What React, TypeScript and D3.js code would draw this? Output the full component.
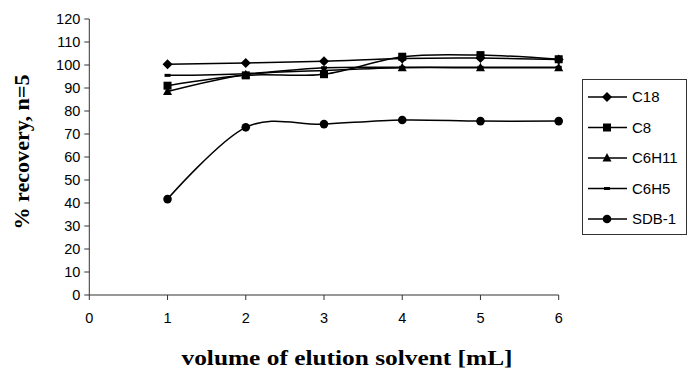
import * as d3 from 'd3';
import { useEffect, useRef } from 'react';

// volume of elution solvent (mL)
const volumes = [1, 2, 3, 4, 5, 6];

// % recovery per sorbent
const c18 = [100.3, 100.9, 101.6, 102.8, 103.0, 102.4];
const c8 = [91.0, 95.5, 96.0, 103.6, 104.3, 102.5];
const c6h11 = [88.5, 95.8, 97.6, 98.8, 98.8, 98.8];
const c6h5 = [95.5, 96.2, 98.8, 99.0, 99.0, 99.0];
const sdb1 = [41.7, 72.9, 74.3, 76.1, 75.6, 75.6];

const seriesNames = ['C18', 'C8', 'C6H11', 'C6H5', 'SDB-1'];
const seriesValues = [c18, c8, c6h11, c6h5, sdb1];
const markerKinds = ['diamond', 'square', 'triangle', 'dash', 'circle'];

const xTicks = [0, 1, 2, 3, 4, 5, 6];
const yTicks = d3.range(0, 121, 10);

const W = 688;
const H = 373;

function drawMarker(g, kind, x, y) {
  if (kind === 'diamond') {
    g.append('path')
      .attr('d', `M${x},${y - 5}L${x + 5},${y}L${x},${y + 5}L${x - 5},${y}Z`)
      .attr('fill', '#000');
  } else if (kind === 'square') {
    g.append('rect').attr('x', x - 4).attr('y', y - 4).attr('width', 8).attr('height', 8).attr('fill', '#000');
  } else if (kind === 'triangle') {
    g.append('path')
      .attr('d', `M${x},${y - 5}L${x + 4.5},${y + 3.5}L${x - 4.5},${y + 3.5}Z`)
      .attr('fill', '#000');
  } else if (kind === 'dash') {
    g.append('rect').attr('x', x - 3).attr('y', y - 1.5).attr('width', 6).attr('height', 3).attr('fill', '#000');
  } else {
    g.append('circle').attr('cx', x).attr('cy', y).attr('r', 4.3).attr('fill', '#000');
  }
}

export default function App() {
  const svgRef = useRef(null);

  useEffect(() => {
    const svg = d3.select(svgRef.current);
    svg.selectAll('*').remove();

    const x = d3.scaleLinear().domain([0, 6]).range([89.3, 558.7]);
    const y = d3.scaleLinear().domain([0, 120]).range([295, 19]);

    const axisColor = '#333';
    const tickFont = '"Liberation Sans", Arial, sans-serif';

    // y axis
    const yAxis = svg.append('g');
    yAxis.append('line')
      .attr('x1', x(0)).attr('x2', x(0))
      .attr('y1', y(0)).attr('y2', y(120))
      .attr('stroke', axisColor).attr('stroke-width', 1);
    yTicks.forEach((t) => {
      yAxis.append('line')
        .attr('x1', x(0) - 5).attr('x2', x(0))
        .attr('y1', y(t)).attr('y2', y(t))
        .attr('stroke', axisColor);
      yAxis.append('text')
        .attr('x', x(0) - 9).attr('y', y(t))
        .attr('dy', '0.35em')
        .attr('text-anchor', 'end')
        .attr('font-family', tickFont)
        .attr('font-size', 14.5)
        .text(t);
    });

    // x axis
    const xAxis = svg.append('g');
    xAxis.append('line')
      .attr('x1', x(0)).attr('x2', x(6))
      .attr('y1', y(0)).attr('y2', y(0))
      .attr('stroke', axisColor);
    xTicks.forEach((t) => {
      xAxis.append('line')
        .attr('x1', x(t)).attr('x2', x(t))
        .attr('y1', y(0)).attr('y2', y(0) + 5)
        .attr('stroke', axisColor);
      xAxis.append('text')
        .attr('x', x(t)).attr('y', y(0) + 28)
        .attr('text-anchor', 'middle')
        .attr('font-family', tickFont)
        .attr('font-size', 14.5)
        .text(t);
    });

    // axis titles
    svg.append('text')
      .attr('x', 347).attr('y', 365)
      .attr('text-anchor', 'middle')
      .attr('font-family', '"Liberation Serif", "Times New Roman", serif')
      .attr('font-weight', 'bold')
      .attr('font-size', 21)
      .attr('textLength', 331)
      .attr('lengthAdjust', 'spacingAndGlyphs')
      .text('volume of elution solvent [mL]');

    svg.append('text')
      .attr('transform', 'translate(29,152) rotate(-90)')
      .attr('text-anchor', 'middle')
      .attr('font-family', '"Liberation Serif", "Times New Roman", serif')
      .attr('font-weight', 'bold')
      .attr('font-size', 21)
      .attr('textLength', 155)
      .attr('lengthAdjust', 'spacingAndGlyphs')
      .text('% recovery, n=5');

    // series
    const line = d3.line()
      .x((d, i) => x(volumes[i]))
      .y((d) => y(d))
      .curve(d3.curveCardinal.tension(0));

    const plot = svg.append('g');
    seriesValues.forEach((vals) => {
      plot.append('path')
        .datum(vals)
        .attr('fill', 'none')
        .attr('stroke', '#000')
        .attr('stroke-width', 1.5)
        .attr('d', line);
    });
    seriesValues.forEach((vals, si) => {
      vals.forEach((v, i) => drawMarker(plot, markerKinds[si], x(volumes[i]), y(v)));
    });

    // legend
    const legend = svg.append('g');
    legend.append('rect')
      .attr('x', 582.5).attr('y', 79.5)
      .attr('width', 104).attr('height', 155)
      .attr('fill', '#fff')
      .attr('stroke', '#333');
    seriesNames.forEach((name, i) => {
      const ly = 97 + i * 30.5;
      legend.append('line')
        .attr('x1', 588).attr('x2', 627)
        .attr('y1', ly).attr('y2', ly)
        .attr('stroke', '#000').attr('stroke-width', 1.5);
      drawMarker(legend, markerKinds[i], 607, ly);
      legend.append('text')
        .attr('x', 632).attr('y', ly)
        .attr('dy', '0.35em')
        .attr('font-family', tickFont)
        .attr('font-size', 15)
        .text(name);
    });
  }, []);

  return (
    <svg
      ref={svgRef}
      width={W}
      height={H}
      style={{ position: 'absolute', left: 0, top: 0, background: '#fff' }}
    />
  );
}
